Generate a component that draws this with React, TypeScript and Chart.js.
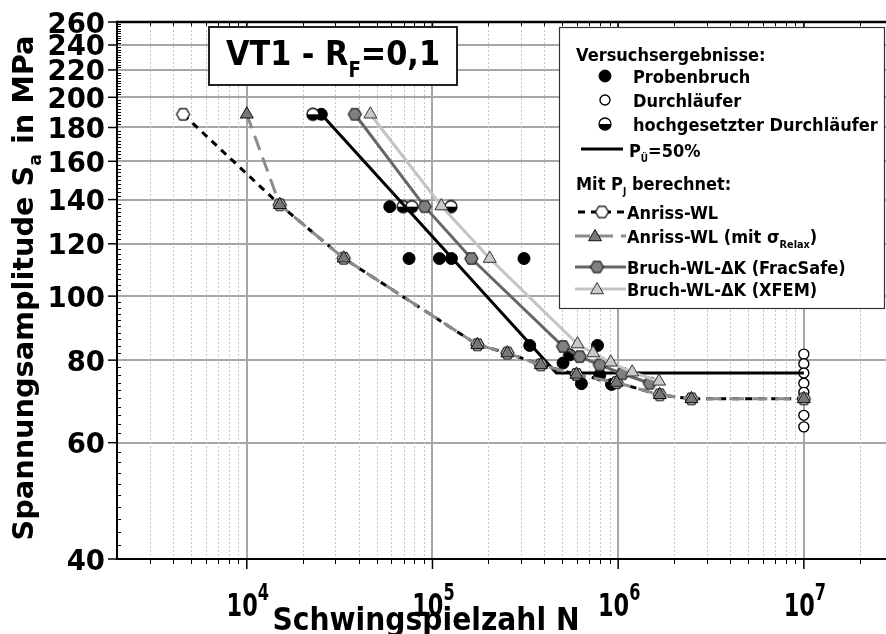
import React, { useEffect, useRef } from 'react';
import { Chart, registerables } from 'chart.js';

Chart.register(...registerables);

type Pt = [number, number];

// Versuchsergebnisse: Schwingspielzahl N, Spannungsamplitude Sa in MPa
const probenbruch: Pt[] = [
  [25200, 188.5],
  [58900, 136.6],
  [74800, 114],
  [109000, 114],
  [126500, 114],
  [311000, 114],
  [334000, 84.2],
  [774000, 84.2],
  [548000, 81.5],
  [505000, 79.2],
  [796000, 76],
  [634000, 73.7],
  [921000, 73.5],
];
const durchlaeufer: Pt[] = [
  [1e7, 81.7],
  [1e7, 79],
  [1e7, 76.5],
  [1e7, 73.8],
  [1e7, 71.5],
  [1e7, 66],
  [1e7, 63.4],
];
const hochgesetzt: Pt[] = [
  [22700, 188.5],
  [69500, 136.6],
  [77400, 136.6],
  [125700, 136.6],
];
// Wöhlerlinie P_Ü = 50 %
const woehler50: Pt[] = [
  [25200, 188.5],
  [465000, 76.5],
  [1e7, 76.5],
];
// Mit P_J berechnet
const anrissWL: Pt[] = [
  [4540, 188.5],
  [15060, 137.5],
  [33260, 114.1],
  [174600, 84.4],
  [253000, 82],
  [383000, 78.7],
  [596000, 76.1],
  [980000, 74],
  [1675000, 70.9],
  [2480000, 69.9],
  [1e7, 69.9],
];
const anrissRelax: Pt[] = [
  [10000, 188.5],
  [15060, 137.5],
  [33260, 114.1],
  [174600, 84.4],
  [253000, 82],
  [383000, 78.7],
  [596000, 76.1],
  [980000, 74],
  [1675000, 70.9],
  [2480000, 69.9],
  [1e7, 69.9],
];
const bruchFracSafe: Pt[] = [
  [38200, 188.5],
  [90800, 136.6],
  [162000, 114],
  [505000, 83.9],
  [621000, 81],
  [796000, 78.7],
  [1054000, 76.3],
  [1480000, 73.8],
];
const bruchXFEM: Pt[] = [
  [46300, 188.5],
  [111600, 136.9],
  [203500, 114],
  [604000, 84.6],
  [733000, 82],
  [912000, 79.4],
  [1190000, 76.7],
  [1660000, 74.3],
];

const xMajor = [1e4, 1e5, 1e6, 1e7];
const xExponents = ['4', '5', '6', '7'];
const yTicks = [40, 60, 80, 100, 120, 140, 160, 180, 200, 220, 240, 260];

const X_MIN = 2000;
const X_MAX = 2.77e7;
const Y_MIN = 40;
const Y_MAX = 260;

const FONT = "'DejaVu Sans', Verdana, sans-serif";

type Seg = { t: string; scale?: number; dy?: number };

function rich(
  ctx: CanvasRenderingContext2D,
  segs: Seg[],
  x: number,
  y: number,
  size: number,
  sx: number,
  align: 'left' | 'center' | 'right',
  fit?: number
) {
  const widths = segs.map((s) => {
    ctx.font = `bold ${size * (s.scale ?? 1)}px ${FONT}`;
    return ctx.measureText(s.t).width;
  });
  const natural = widths.reduce((a, b) => a + b, 0);
  const k = fit ? fit / natural : sx;
  const total = natural * k;
  const x0 = align === 'left' ? x : align === 'center' ? x - total / 2 : x - total;
  ctx.save();
  ctx.translate(x0, y);
  ctx.scale(k, 1);
  ctx.textAlign = 'left';
  ctx.textBaseline = 'alphabetic';
  let cx = 0;
  segs.forEach((s, i) => {
    ctx.font = `bold ${size * (s.scale ?? 1)}px ${FONT}`;
    ctx.fillText(s.t, cx, (s.dy ?? 0) * size);
    cx += widths[i];
  });
  ctx.restore();
  return total;
}

function makeHexagon(fill: string, stroke: string, r: number) {
  const c = document.createElement('canvas');
  const s = Math.ceil(2 * r + 4);
  c.width = s;
  c.height = s;
  const g = c.getContext('2d')!;
  g.beginPath();
  for (let i = 0; i < 6; i++) {
    const a = (Math.PI / 3) * i;
    const px = s / 2 + r * Math.cos(a);
    const py = s / 2 + r * Math.sin(a);
    if (i === 0) g.moveTo(px, py);
    else g.lineTo(px, py);
  }
  g.closePath();
  g.fillStyle = fill;
  g.fill();
  g.strokeStyle = stroke;
  g.lineWidth = 1.2;
  g.stroke();
  return c;
}

function makeHalfCircle(r: number) {
  const c = document.createElement('canvas');
  const s = Math.ceil(2 * r + 4);
  c.width = s;
  c.height = s;
  const g = c.getContext('2d')!;
  const m = s / 2;
  g.beginPath();
  g.arc(m, m, r, 0, Math.PI * 2);
  g.fillStyle = '#fff';
  g.fill();
  g.beginPath();
  g.arc(m, m, r, 0, Math.PI);
  g.closePath();
  g.fillStyle = '#000';
  g.fill();
  g.beginPath();
  g.arc(m, m, r, 0, Math.PI * 2);
  g.strokeStyle = '#000';
  g.lineWidth = 1.3;
  g.stroke();
  return c;
}

function triangle(ctx: CanvasRenderingContext2D, x: number, y: number, r: number, fill: string, stroke: string) {
  ctx.beginPath();
  ctx.moveTo(x, y - r);
  ctx.lineTo(x + 0.866 * r, y + r / 2);
  ctx.lineTo(x - 0.866 * r, y + r / 2);
  ctx.closePath();
  ctx.fillStyle = fill;
  ctx.fill();
  ctx.strokeStyle = stroke;
  ctx.lineWidth = 1;
  ctx.stroke();
}

function circle(ctx: CanvasRenderingContext2D, x: number, y: number, r: number, fill: string, lw: number) {
  ctx.beginPath();
  ctx.arc(x, y, r, 0, Math.PI * 2);
  ctx.fillStyle = fill;
  ctx.fill();
  ctx.strokeStyle = '#000';
  ctx.lineWidth = lw;
  ctx.stroke();
}

function seg(ctx: CanvasRenderingContext2D, x1: number, y1: number, x2: number, y2: number) {
  ctx.beginPath();
  ctx.moveTo(x1, y1);
  ctx.lineTo(x2, y2);
  ctx.stroke();
}

function minorX(): number[] {
  const out: number[] = [];
  for (let e = 3; e <= 7; e++) {
    for (let m = 2; m <= 9; m++) {
      const v = m * Math.pow(10, e);
      if (v > X_MIN && v < X_MAX) out.push(v);
    }
  }
  return out;
}

const pts = (a: Pt[]) => a.map(([x, y]) => ({ x, y }));

export default function App() {
  const canvasRef = useRef<HTMLCanvasElement | null>(null);

  useEffect(() => {
    const canvas = canvasRef.current;
    if (!canvas) return;
    const hexWhite = makeHexagon('#ffffff', '#000000', 6.5);
    const hexGray = makeHexagon('#808080', '#222222', 6.5);
    const half = makeHalfCircle(6);

    const decor = {
      id: 'decor',
      beforeDatasetsDraw(chart: any) {
        const { ctx, chartArea: a, scales } = chart;
        ctx.save();
        ctx.strokeStyle = '#c6c6c6';
        ctx.lineWidth = 1;
        ctx.setLineDash([2, 2]);
        for (const v of minorX()) {
          const px = Math.round(scales.x.getPixelForValue(v)) + 0.5;
          seg(ctx, px, a.top, px, a.bottom);
        }
        ctx.restore();
      },
      afterDraw(chart: any) {
        const { ctx, chartArea: a, scales } = chart;
        const xs = scales.x;
        const ys = scales.y;
        ctx.save();
        ctx.strokeStyle = '#000';
        ctx.fillStyle = '#000';

        // Achsenrahmen
        ctx.lineWidth = 2;
        seg(ctx, a.left, a.top, a.left, a.bottom + 1);
        seg(ctx, a.left - 1, a.bottom, a.right, a.bottom);
        ctx.lineWidth = 2.5;
        seg(ctx, a.left - 1, a.top, a.right, a.top);

        // Teilstriche x
        ctx.lineWidth = 1.5;
        for (const v of xMajor) {
          const px = xs.getPixelForValue(v);
          seg(ctx, px, a.bottom, px, a.bottom + 10);
          seg(ctx, px, a.top, px, a.top + 8);
        }
        ctx.lineWidth = 1;
        for (const v of minorX()) {
          const px = Math.round(xs.getPixelForValue(v)) + 0.5;
          seg(ctx, px, a.bottom, px, a.bottom + 5);
          seg(ctx, px, a.top, px, a.top + 4);
        }
        // Teilstriche y
        ctx.lineWidth = 1.5;
        for (const v of yTicks) {
          const py = ys.getPixelForValue(v);
          seg(ctx, a.left - 9, py, a.left, py);
        }
        ctx.lineWidth = 1;
        for (let v = 42; v < Y_MAX; v += 2) {
          if (yTicks.includes(v)) continue;
          const py = Math.round(ys.getPixelForValue(v)) + 0.5;
          seg(ctx, a.left, py, a.left + 4, py);
        }

        // Beschriftung y
        ctx.fillStyle = '#000';
        for (const v of yTicks) {
          const py = ys.getPixelForValue(v);
          rich(ctx, [{ t: String(v) }], 105, py + 10.5, 29, 0.95, 'right');
        }
        // Beschriftung x
        xMajor.forEach((v, i) => {
          const px = xs.getPixelForValue(v);
          rich(
            ctx,
            [{ t: '10' }, { t: xExponents[i], scale: 0.72, dy: -0.5 }],
            px + 1,
            616,
            32,
            0.7,
            'center'
          );
        });
        // Achsentitel
        rich(ctx, [{ t: 'Schwingspielzahl N' }], 426, 630, 32, 0.88, 'center', 307);
        ctx.save();
        ctx.translate(33, 288);
        ctx.rotate(-Math.PI / 2);
        rich(
          ctx,
          [{ t: 'Spannungsamplitude S' }, { t: 'a', scale: 0.6, dy: 0.3 }, { t: ' in MPa' }],
          0,
          0,
          28,
          1,
          'center',
          505
        );
        ctx.restore();

        // Titelkasten
        ctx.fillStyle = '#fff';
        ctx.fillRect(209, 27, 248, 58);
        ctx.strokeStyle = '#222';
        ctx.lineWidth = 2;
        ctx.strokeRect(209, 27, 248, 58);
        ctx.fillStyle = '#000';
        rich(
          ctx,
          [{ t: 'VT1 - R' }, { t: 'F', scale: 0.6, dy: 0.35 }, { t: '=0,1' }],
          226,
          65,
          34,
          0.8,
          'left',
          214
        );

        // Legende
        ctx.fillStyle = '#fff';
        ctx.fillRect(559, 27, 325, 281);
        ctx.strokeStyle = '#333';
        ctx.lineWidth = 1.2;
        ctx.strokeRect(559.5, 27.5, 325, 281);
        const L = 18;
        const SX = 0.9;
        const bl = 6.5;
        const label = (segs: Seg[], x: number, y: number) => {
          ctx.fillStyle = '#000';
          rich(ctx, segs, x, y, L, SX, 'left');
        };
        label([{ t: 'Versuchsergebnisse:' }], 576, 54 + bl);
        circle(ctx, 605, 76, 6, '#000', 1);
        label([{ t: 'Probenbruch' }], 633, 76 + bl);
        circle(ctx, 605, 100, 5, '#fff', 1.4);
        label([{ t: 'Durchläufer' }], 633, 100 + bl);
        ctx.drawImage(half, 605 - half.width / 2, 124 - half.height / 2);
        label([{ t: 'hochgesetzter Durchläufer' }], 633, 124 + bl);
        ctx.strokeStyle = '#000';
        ctx.lineWidth = 3;
        seg(ctx, 581, 149, 623, 149);
        label([{ t: 'P' }, { t: 'Ü', scale: 0.55, dy: 0.3 }, { t: '=50%' }], 629, 149 + bl + 1);
        label([{ t: 'Mit P' }, { t: 'J', scale: 0.55, dy: 0.3 }, { t: ' berechnet:' }], 576, 183 + bl);
        // Anriss-WL
        ctx.save();
        ctx.setLineDash([7, 6]);
        ctx.lineWidth = 3;
        ctx.strokeStyle = '#000';
        seg(ctx, 578, 212, 627, 212);
        ctx.restore();
        ctx.drawImage(hexWhite, 602 - hexWhite.width / 2, 212 - hexWhite.height / 2);
        label([{ t: 'Anriss-WL' }], 627, 212 + bl);
        // Anriss-WL mit Relaxation
        ctx.save();
        ctx.setLineDash([15, 8]);
        ctx.lineWidth = 3;
        ctx.strokeStyle = '#8c8c8c';
        seg(ctx, 575, 236, 626, 236);
        ctx.restore();
        triangle(ctx, 595, 237, 7.5, '#777777', '#111');
        label([{ t: 'Anriss-WL (mit σ' }, { t: 'Relax', scale: 0.6, dy: 0.3 }, { t: ')' }], 627, 236 + bl);
        // Bruch FracSafe
        ctx.lineWidth = 3;
        ctx.strokeStyle = '#666';
        seg(ctx, 575, 267, 626, 267);
        ctx.drawImage(hexGray, 597 - hexGray.width / 2, 267 - hexGray.height / 2);
        label([{ t: 'Bruch-WL-ΔK (FracSafe)' }], 627, 267 + bl);
        // Bruch XFEM
        ctx.lineWidth = 3;
        ctx.strokeStyle = '#c4c4c4';
        seg(ctx, 575, 289, 626, 289);
        triangle(ctx, 597, 290, 7.5, '#c8c8c8', '#333');
        label([{ t: 'Bruch-WL-ΔK (XFEM)' }], 627, 289 + bl);

        ctx.restore();
      },
    };

    const chart = new Chart(canvas, {
      type: 'scatter',
      data: {
        datasets: [
          {
            label: 'Bruch-WL-ΔK (XFEM)',
            data: pts(bruchXFEM),
            showLine: true,
            borderColor: '#c4c4c4',
            borderWidth: 3,
            pointStyle: 'triangle',
            pointRadius: 7.5,
            pointBackgroundColor: '#c8c8c8',
            pointBorderColor: '#333',
            pointBorderWidth: 1,
            order: 1,
          },
          {
            label: 'Bruch-WL-ΔK (FracSafe)',
            data: pts(bruchFracSafe),
            showLine: true,
            borderColor: '#666666',
            borderWidth: 3,
            pointStyle: hexGray,
            pointRadius: 6.5,
            order: 2,
          },
          {
            label: 'Anriss-WL (mit σRelax)',
            data: pts(anrissRelax),
            showLine: true,
            borderColor: '#8c8c8c',
            borderWidth: 3,
            borderDash: [15, 8],
            pointStyle: 'triangle',
            pointRadius: 7.5,
            pointBackgroundColor: '#777777',
            pointBorderColor: '#111',
            pointBorderWidth: 1,
            order: 3,
          },
          {
            label: 'Anriss-WL',
            data: pts(anrissWL),
            showLine: true,
            borderColor: '#000000',
            borderWidth: 3,
            borderDash: [7, 6],
            pointStyle: hexWhite,
            pointRadius: 6.5,
            order: 4,
          },
          {
            label: 'PÜ=50%',
            data: pts(woehler50),
            showLine: true,
            borderColor: '#000000',
            borderWidth: 3,
            pointRadius: 0,
            order: 5,
          },
          {
            label: 'Durchläufer',
            data: pts(durchlaeufer),
            showLine: false,
            pointStyle: 'circle',
            pointRadius: 5,
            pointBackgroundColor: '#ffffff',
            pointBorderColor: '#000',
            pointBorderWidth: 1.4,
            order: 6,
          },
          {
            label: 'hochgesetzter Durchläufer',
            data: pts(hochgesetzt),
            showLine: false,
            pointStyle: half,
            pointRadius: 6,
            order: 7,
          },
          {
            label: 'Probenbruch',
            data: pts(probenbruch),
            showLine: false,
            pointStyle: 'circle',
            pointRadius: 6,
            pointBackgroundColor: '#000',
            pointBorderColor: '#000',
            pointBorderWidth: 1,
            order: 8,
          },
        ],
      },
      options: {
        animation: false,
        responsive: false,
        maintainAspectRatio: false,
        devicePixelRatio: 1,
        layout: { autoPadding: false, padding: { top: 22, right: 0, left: 0, bottom: 0 } },
        plugins: {
          legend: { display: false },
          tooltip: { enabled: false },
        },
        elements: { line: { tension: 0 } },
        scales: {
          x: {
            type: 'logarithmic',
            min: X_MIN,
            max: X_MAX,
            afterFit: (s: any) => {
              s.height = 75;
            },
            afterBuildTicks: (s: any) => {
              s.ticks = xMajor.map((v) => ({ value: v }));
            },
            ticks: { display: false },
            grid: { color: '#a6a6a6', lineWidth: 2, drawTicks: false },
            border: { display: false },
          },
          y: {
            type: 'logarithmic',
            min: Y_MIN,
            max: Y_MAX,
            afterFit: (s: any) => {
              s.width = 117;
            },
            afterBuildTicks: (s: any) => {
              s.ticks = yTicks.map((v) => ({ value: v }));
            },
            ticks: { display: false },
            grid: { color: '#a6a6a6', lineWidth: 2, drawTicks: false },
            border: { display: false },
          },
        },
      } as any,
      plugins: [decor],
    });

    return () => chart.destroy();
  }, []);

  return (
    <div style={{ position: 'fixed', left: 0, top: 0, width: 886, height: 634, background: '#fff' }}>
      <canvas ref={canvasRef} width={886} height={634} style={{ display: 'block' }} />
    </div>
  );
}
